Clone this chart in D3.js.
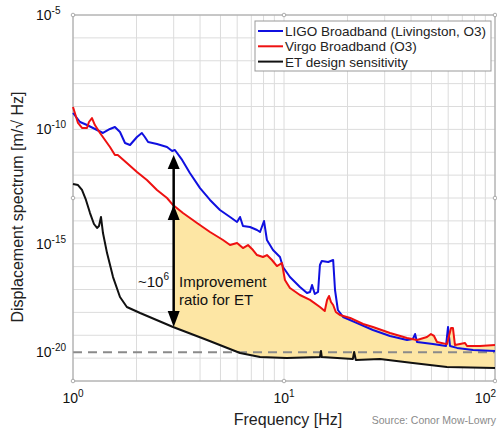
<!DOCTYPE html>
<html><head><meta charset="utf-8">
<script src="https://cdn.jsdelivr.net/npm/d3@7"></script>
<style>
html,body{margin:0;padding:0;background:#fff;}
svg{display:block;font-family:"Liberation Sans",Arial,Helvetica,sans-serif;}
</style></head>
<body>
<svg id="chart" width="497" height="428"></svg>
<script>
// ---------------- DATA ----------------
const ligoFreq = [1.0,1.08,1.165,1.30,1.387,1.497,1.58,1.67,1.764,1.863,2.01,2.12,2.19,2.27,2.50,2.79,2.95,3.04,3.29,3.58,4.0,4.46,4.97,5.55,5.99,6.19,6.39,6.90,7.45,7.70,8.04,8.30,8.87,9.57,9.89,10.67,11.9,12.85,13.28,13.58,14.0,14.5,14.8,15.1,16.2,17.1,17.45,18.0,19.05,22.2,26.4,31.8,38.3,40.8,41.8,42.7,50.8,58.6,59.9,61.2,66.1,78.7,100];
const ligoASD  = [5.2e-10,2.1e-10,1.55e-10,9.4e-11,6.95e-11,1.04e-10,1.27e-10,7.7e-11,2.54e-11,2.07e-11,4.65e-11,6.95e-11,4.65e-11,2.8e-11,2.3e-11,1.7e-11,1.13e-11,1.25e-11,4.6e-12,1.24e-12,2.7e-13,8.2e-14,3.0e-14,1.48e-14,8.9e-15,1.48e-14,6.0e-15,5.4e-15,4.0e-15,3.27e-15,9.9e-15,1.46e-15,5.3e-16,2.64e-16,9.6e-17,3.5e-17,1.28e-17,7.0e-18,7.8e-18,1.57e-17,6.35e-18,7.8e-18,1.18e-16,1.76e-16,1.6e-16,1.95e-16,9.5e-18,1.27e-18,6.3e-19,3.4e-19,1.7e-19,9.3e-20,6.2e-20,6.85e-20,1.13e-19,5.1e-20,4.1e-20,3.4e-20,2.3e-19,3.4e-20,2.8e-20,2.27e-20,2.05e-20];

const virgoFreq = [1.0,1.056,1.103,1.165,1.19,1.23,1.27,1.343,1.497,1.58,1.63,1.80,2.01,2.24,2.50,2.79,2.98,3.32,3.87,4.46,5.14,5.55,5.99,6.39,6.75,7.13,7.45,7.95,8.30,8.77,9.26,9.78,10.1,10.67,11.9,13.28,14.8,15.6,16.0,16.35,16.7,17.1,17.6,18.4,20.6,23.7,26.4,31.8,38.3,42.7,47.6,49.7,51.4,53.1,59.2,61.9,63.2,64.6,72.1,73.7,84.9,100];
const virgoASD  = [9.5e-10,1.9e-10,1.15e-10,1.15e-10,2.1e-10,3.1e-10,1.55e-10,6.95e-11,1.7e-11,7.6e-12,7.6e-12,3.4e-12,1.37e-12,6.1e-13,2.24e-13,1.0e-13,4.9e-14,2.2e-14,8.1e-15,3.27e-15,1.46e-15,8.8e-16,1.08e-15,6.5e-16,8.8e-16,5.3e-16,3.2e-16,2.64e-16,3.2e-16,1.95e-16,1.06e-16,1.44e-16,2.6e-17,1.16e-17,5.75e-18,3.5e-18,1.72e-18,1.15e-18,3.5e-18,5.2e-18,2.85e-18,2.1e-18,1.04e-18,7.7e-19,5.7e-19,3.1e-19,2.3e-19,1.25e-19,7.6e-20,6.2e-20,8.4e-20,1.13e-19,9.3e-20,5.1e-20,4.1e-20,2.07e-19,2.07e-19,3.75e-20,4.6e-20,3.4e-20,3.4e-20,3.75e-20];

const etFreq = [1.0,1.056,1.103,1.152,1.204,1.257,1.30,1.328,1.357,1.387,1.45,1.548,1.67,1.80,2.08,2.98,4.32,6.19,7.70,10.3,14.8,14.97,15.1,21.2,21.5,21.9,28.5,40.8,59.2,100];
const etASD  = [4.1e-13,3.7e-13,2.24e-13,8.2e-14,2.2e-14,7.3e-15,4.9e-15,6.0e-15,1.48e-14,2.95e-15,3.9e-16,3.5e-17,4.7e-18,1.72e-18,9.4e-19,2.3e-19,6.2e-20,1.67e-20,1.12e-20,1.01e-20,1.12e-20,2.05e-20,1.12e-20,9.2e-21,1.85e-20,8.3e-21,9.2e-21,6.1e-21,4.1e-21,3.7e-21];

const referenceLevel = 1.8e-20;                 // dashed line
const arrowFreq = 3;
const arrowValues = [7.6e-12, 4.9e-14, 2.3e-19]; // LIGO, Virgo, ET at 3 Hz

const xTickValues = [1, 10, 100];
const xTickExp = ["0", "1", "2"];
const yTickValues = [1e-5, 1e-10, 1e-15, referenceLevel];
const yTickExp = ["-5", "-10", "-15", "-20"];
const seriesNames = ["LIGO Broadband (Livingston, O3)", "Virgo Broadband (O3)", "ET design sensitivity"];
const seriesColors = ["#1010e0", "#ee1111", "#111111"];

// ---------------- CHART ----------------
(function () {
const svg = d3.select("#chart");
const L = 73, R = 495, T = 15, B = 381;
const x = d3.scaleLog().domain([1, 100]).range([L, R]);
const y = d3.scaleLog().domain([1e-21, 1e-5]).range([B, T]);

// grid
const xGrid = [];
for (let d = 1; d < 100; d *= 10) for (let k = 1; k <= 9; k++) xGrid.push(d * k);
xGrid.push(100);
const yGrid = d3.range(-21, -4).map(e => Math.pow(10, e));
svg.append("g").selectAll("line").data(xGrid).join("line")
  .attr("x1", d => x(d)).attr("x2", d => x(d)).attr("y1", T).attr("y2", B)
  .attr("stroke", "#dcdcdc").attr("stroke-width", 1);
svg.append("g").selectAll("line").data(yGrid).join("line")
  .attr("x1", L).attr("x2", R).attr("y1", d => y(d)).attr("y2", d => y(d))
  .attr("stroke", "#dcdcdc").attr("stroke-width", 1);

// fill between Virgo and ET from 3 Hz
const zip = (f, v) => f.map((ff, i) => [ff, v[i]]);
const ligo = zip(ligoFreq, ligoASD);
const virgo = zip(virgoFreq, virgoASD);
const et = zip(etFreq, etASD);
const upper = [[arrowFreq, arrowValues[1]]].concat(virgo.filter(d => d[0] > arrowFreq));
const lower = [[arrowFreq, arrowValues[2]]].concat(et.filter(d => d[0] > arrowFreq));
const poly = upper.concat(lower.slice().reverse());
svg.append("path")
  .attr("d", d3.line().x(d => x(d[0])).y(d => y(d[1]))(poly) + "Z")
  .attr("fill", "#fde6a4").attr("stroke", "none");

// dashed reference
svg.append("line").attr("x1", L).attr("x2", R)
  .attr("y1", y(referenceLevel)).attr("y2", y(referenceLevel))
  .attr("stroke", "#8a8a8a").attr("stroke-width", 2).attr("stroke-dasharray", "9,6");

// frame
svg.append("rect").attr("x", L).attr("y", T).attr("width", R - L).attr("height", B - T)
  .attr("fill", "none").attr("stroke", "#a0a0a0").attr("stroke-width", 1);

// curves
const line = d3.line().x(d => x(d[0])).y(d => y(d[1]));
[ligo, virgo, et].forEach((s, i) => {
  svg.append("path").attr("d", line(s)).attr("fill", "none")
    .attr("stroke", seriesColors[i]).attr("stroke-width", 2).attr("stroke-linejoin", "round");
});

// arrow
const ax = x(arrowFreq);
const yTop = y(arrowValues[0]), yMid = y(arrowValues[1]), yBot = y(arrowValues[2]);
svg.append("line").attr("x1", ax).attr("x2", ax).attr("y1", yTop + 8).attr("y2", yBot - 8)
  .attr("stroke", "#000").attr("stroke-width", 2.5);
const head = (tip, dir, len, hw) => `M${ax},${tip}L${ax - hw},${tip + dir * len}L${ax + hw},${tip + dir * len}Z`;
svg.append("path").attr("d", head(yTop, 1, 14, 6));
svg.append("path").attr("d", head(yMid, 1, 15, 6));
svg.append("path").attr("d", head(yBot, -1, 16, 6));

// annotation text
const ann = svg.append("g").attr("fill", "#111").style("font-size", "15px");
const t1 = ann.append("text").attr("x", 138).attr("y", 287);
t1.append("tspan").text("~10");
t1.append("tspan").attr("dy", -7).style("font-size", "10px").text("6");
ann.append("text").attr("x", 179).attr("y", 287).text("Improvement");
ann.append("text").attr("x", 179).attr("y", 305).text("ratio for ET");

// axis tick labels
const yl = svg.append("g").attr("fill", "#111");
yTickValues.forEach((v, i) => {
  const t = yl.append("text").attr("x", 36).attr("y", y(v) + 5).style("font-size", "14px");
  t.append("tspan").text("10");
  t.append("tspan").attr("dy", -6).style("font-size", "10px").text(yTickExp[i]);
});
xTickValues.forEach((v, i) => {
  const last = i === xTickValues.length - 1;
  const t = yl.append("text").attr("x", last ? 496 : x(v)).attr("y", 403)
    .attr("text-anchor", last ? "end" : "middle").style("font-size", "14px");
  t.append("tspan").text("10");
  t.append("tspan").attr("dy", -6).style("font-size", "10px").text(xTickExp[i]);
});

// handles
const hx = [L, (L + R) / 2, R], hy = [T, (T + B) / 2, B];
const handles = [];
hx.forEach(a => hy.forEach(b => { if (!(a === hx[1] && b === hy[1])) handles.push([a, b]); }));
svg.append("g").selectAll("circle").data(handles).join("circle")
  .attr("cx", d => d[0]).attr("cy", d => d[1]).attr("r", 1.8)
  .attr("fill", "#fff").attr("stroke", "#999").attr("stroke-width", 0.8);

// axis titles
svg.append("text").attr("x", 288).attr("y", 425).attr("text-anchor", "middle")
  .style("font-size", "16px").attr("fill", "#222").text("Frequency [Hz]");
svg.append("text").attr("transform", "translate(23,207) rotate(-90)").attr("text-anchor", "middle")
  .style("font-size", "16px").attr("fill", "#222").text("Displacement spectrum [m/\u221A Hz]");
svg.append("text").attr("x", 496).attr("y", 424).attr("text-anchor", "end")
  .style("font-size", "10.5px").attr("fill", "#8a8a8a").text("Source: Conor Mow-Lowry");

// legend
const lg = svg.append("g");
lg.append("rect").attr("x", 255).attr("y", 21).attr("width", 236).attr("height", 50)
  .attr("fill", "#fff").attr("stroke", "#999").attr("stroke-width", 1);
seriesNames.forEach((n, i) => {
  const yy = 31 + i * 15.3;
  lg.append("line").attr("x1", 258).attr("x2", 283).attr("y1", yy).attr("y2", yy)
    .attr("stroke", seriesColors[i]).attr("stroke-width", 2);
  lg.append("text").attr("x", 285).attr("y", yy + 5).style("font-size", "13.5px").attr("fill", "#222").text(n);
});
})();
</script>
</body></html>
